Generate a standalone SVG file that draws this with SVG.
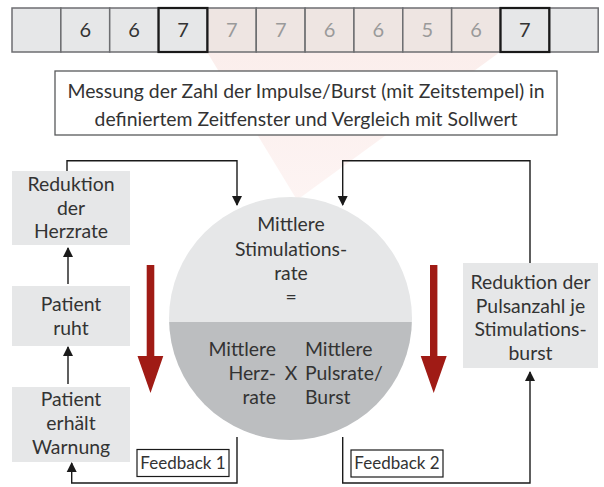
<svg xmlns="http://www.w3.org/2000/svg" width="604" height="487" viewBox="0 0 604 487">
<style>
  text { font-family: Lato, "Open Sans", "Liberation Sans", sans-serif; fill: #333333; font-weight: 400; }
  .t { font-size: 19.4px; text-anchor: middle; }
  .e { text-anchor: end; }
  .s { text-anchor: start; }
  .num { font-size: 20px; text-anchor: middle; }
  .numf { font-size: 20px; text-anchor: middle; fill: #9a9a9a; }
  .cell { fill: #e6e7e8; stroke: #6d6e71; stroke-width: 1.5; }
  .cellp { fill: #eee5e2; stroke: #6d6e71; stroke-width: 1.5; }
  .cellk { fill: none; stroke: #1a1a1a; stroke-width: 2.2; }
  .box { fill: #e6e7e8; }
  .conn { fill: none; stroke: #1a1a1a; stroke-width: 1.4; }
  .lbl { fill: #ffffff; stroke: #1a1a1a; stroke-width: 1.2; }
  .fb { font-size: 17px; text-anchor: middle; }
  .red { fill: #a01b15; }
</style>
<defs>
  <marker id="ah" markerWidth="10" markerHeight="14" refX="9" refY="5" orient="auto" markerUnits="userSpaceOnUse" viewBox="0 0 10 10">
    <path d="M0,0 L10,5 L0,10 Z" fill="#1a1a1a"/>
  </marker>
  <linearGradient id="pk" x1="0" y1="0" x2="0" y2="1">
    <stop offset="0" stop-color="#fbeeec"/>
    <stop offset="1" stop-color="#fdf4f3"/>
  </linearGradient>
  <clipPath id="cc"><circle cx="290.5" cy="318.5" r="121.5"/></clipPath>
</defs>

<!-- background triangle -->
<polygon id="focus" points="207,52 500,52 297,200" fill="url(#pk)"/>

<!-- top cell row -->
<g id="timeline">
  <rect class="cell" x="12" y="8" width="48.85" height="44"/>
  <rect class="cell" x="60.85" y="8" width="48.85" height="44"/>
  <rect class="cell" x="109.7" y="8" width="48.85" height="44"/>
  <rect class="cell" x="158.55" y="8" width="48.85" height="44"/>
  <rect class="cellp" x="207.4" y="8" width="48.85" height="44"/>
  <rect class="cellp" x="256.25" y="8" width="48.85" height="44"/>
  <rect class="cellp" x="305.1" y="8" width="48.85" height="44"/>
  <rect class="cellp" x="353.95" y="8" width="48.85" height="44"/>
  <rect class="cellp" x="402.8" y="8" width="48.85" height="44"/>
  <rect class="cellp" x="451.65" y="8" width="48.85" height="44"/>
  <rect class="cell" x="500.5" y="8" width="48.85" height="44"/>
  <rect class="cell" x="549.35" y="8" width="48.85" height="44"/>
  <rect class="cellk" x="158.55" y="8" width="48.85" height="44"/>
  <rect class="cellk" x="500.5" y="8" width="48.85" height="44"/>
  <text class="num" x="85.3" y="37">6</text>
  <text class="num" x="134.1" y="37">6</text>
  <text class="num" x="183" y="37">7</text>
  <text class="numf" x="231.8" y="37">7</text>
  <text class="numf" x="280.7" y="37">7</text>
  <text class="numf" x="329.5" y="37">6</text>
  <text class="numf" x="378.4" y="37">6</text>
  <text class="numf" x="427.2" y="37">5</text>
  <text class="numf" x="476.1" y="37">6</text>
  <text class="num" x="524.9" y="37">7</text>
</g>

<!-- measurement box -->
<g id="messung">
  <rect x="55" y="71" width="502" height="64" fill="#ffffff" stroke="#58595b" stroke-width="1.3"/>
  <text class="t" x="306" y="98">Messung der Zahl der Impulse/Burst (mit Zeitstempel) in<tspan x="306" dy="28">definiertem Zeitfenster und Vergleich mit Sollwert</tspan></text>
</g>

<!-- left column -->
<g id="reduktion-herzrate">
  <rect class="box" x="12" y="171" width="118" height="74"/>
  <text class="t" x="71" y="191">Reduktion<tspan x="71" dy="23.5">der</tspan><tspan x="71" dy="23.5">Herzrate</tspan></text>
</g>
<g id="patient-ruht">
  <rect class="box" x="12" y="286" width="118" height="60"/>
  <text class="t" x="71" y="311">Patient<tspan x="71" dy="23.5">ruht</tspan></text>
</g>
<g id="patient-warnung">
  <rect class="box" x="12" y="387" width="118" height="75"/>
  <text class="t" x="71" y="406">Patient<tspan x="71" dy="24">erhält</tspan><tspan x="71" dy="24">Warnung</tspan></text>
</g>

<!-- right box -->
<g id="reduktion-puls">
  <rect class="box" x="463" y="263" width="135" height="105"/>
  <text class="t" x="530.5" y="289">Reduktion der<tspan x="530.5" dy="23.5">Pulsanzahl je</tspan><tspan x="530.5" dy="23.5">Stimulations-</tspan><tspan x="530.5" dy="23.5">burst</tspan></text>
</g>

<!-- circle -->
<g id="stimulationsrate">
  <g clip-path="url(#cc)">
    <rect x="169" y="197" width="243" height="125" fill="#e6e7e8"/>
    <rect x="169" y="322" width="243" height="119" fill="#bcbec0"/>
  </g>
  <text class="t" x="291" y="231">Mittlere<tspan x="291" dy="25">Stimulations-</tspan><tspan x="291" dy="24">rate</tspan><tspan x="291" dy="23.5">=</tspan></text>
  <text class="t e" x="276" y="356">Mittlere<tspan x="276" dy="24">Herz-</tspan><tspan x="276" dy="24">rate</tspan></text>
  <text class="t" x="291" y="380">X</text>
  <text class="t s" x="305" y="356">Mittlere<tspan x="305" dy="24">Pulsrate/</tspan><tspan x="305" dy="24">Burst</tspan></text>
</g>

<!-- red arrows -->
<g id="red-arrows">
  <path class="red" d="M146.7,265 H154.3 V356 H163.3 L150.5,393 L137.5,356 H146.7 Z"/>
  <path class="red" d="M430,265 H437.4 V356 H446.7 L433.7,393 L420.7,356 H430 Z"/>
</g>

<!-- feedback labels -->
<g id="feedback1">
  <rect class="lbl" x="137" y="449.5" width="92" height="27"/>
  <text class="fb" x="183" y="469">Feedback 1</text>
</g>
<g id="feedback2">
  <rect class="lbl" x="351" y="450" width="92" height="27"/>
  <text class="fb" x="397" y="469">Feedback 2</text>
</g>

<!-- connectors -->
<g id="connectors">
  <path class="conn" d="M67,171 V160.7 H237 V205" marker-end="url(#ah)"/>
  <path class="conn" d="M530,263 V160.7 H342.7 V205" marker-end="url(#ah)"/>
  <path class="conn" d="M68,284 V248" marker-end="url(#ah)"/>
  <path class="conn" d="M68,384 V347" marker-end="url(#ah)"/>
  <path class="conn" d="M237,437 V483 H71.7 V463" marker-end="url(#ah)"/>
  <path class="conn" d="M342.7,437 V483 H530 V372" marker-end="url(#ah)"/>
</g>
</svg>
